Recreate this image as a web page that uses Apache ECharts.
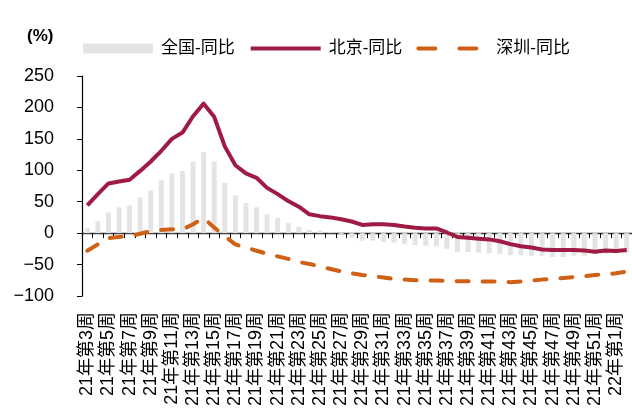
<!DOCTYPE html>
<html>
<head>
<meta charset="utf-8">
<script src="https://cdn.jsdelivr.net/npm/echarts@6/dist/echarts.min.js"></script>
<style>
  html, body { margin: 0; padding: 0; background: #fff; }
  #chart { width: 632px; height: 409px; }
</style>
</head>
<body>
<div id="chart"></div>
<script>
// 周度类目：21年第3周 ~ 22年第2周
const weeks = [
  '21年第3周', '21年第4周', '21年第5周', '21年第6周', '21年第7周', '21年第8周', '21年第9周', '21年第10周',
  '21年第11周', '21年第12周', '21年第13周', '21年第14周', '21年第15周', '21年第16周', '21年第17周', '21年第18周',
  '21年第19周', '21年第20周', '21年第21周', '21年第22周', '21年第23周', '21年第24周', '21年第25周', '21年第26周',
  '21年第27周', '21年第28周', '21年第29周', '21年第30周', '21年第31周', '21年第32周', '21年第33周', '21年第34周',
  '21年第35周', '21年第36周', '21年第37周', '21年第38周', '21年第39周', '21年第40周', '21年第41周', '21年第42周',
  '21年第43周', '21年第44周', '21年第45周', '21年第46周', '21年第47周', '21年第48周', '21年第49周', '21年第50周',
  '21年第51周', '21年第52周', '22年第1周', '22年第2周'
];

// 全国-同比 (%)
const nationalYoy = [
  8, 19, 33, 41, 44, 57, 68, 84, 95, 99, 114, 129, 114, 80, 60, 48,
  41, 30, 24, 16, 10, 5, 4, 1, -2, -7, -12, -12, -14, -15, -17, -19,
  -20, -21, -25, -30, -30, -31, -32, -33, -35, -35, -36, -36, -38, -38, -36, -36,
  -33, -33, -32, -31
];

// 北京-同比 (%)
const beijingYoy = [
  44, 62, 79, 82, 85, 99, 114, 131, 150, 160, 186, 206, 185, 138, 108, 95,
  88, 72, 62, 51, 42, 30, 27, 25, 22, 18.5, 13, 14, 14, 13, 10.5, 8.5,
  7.5, 7.5, 1, -6, -7.5, -9, -10, -13, -17.5, -21, -23, -26, -27, -27, -27, -27.5,
  -29.5, -27.5, -28.5, -27
];

// 深圳-同比 (%)
const shenzhenYoy = [
  -28, -18, -8, -6, -5, -1, 3, 5, 6, 6, 14, 24, 9, -5, -18, -23,
  -28, -33, -37, -41, -46, -49, -53, -57, -61, -64, -66.5, -68.5, -70.5, -73, -74, -75,
  -75.5, -75.5, -76, -76.5, -76.5, -77, -77, -77, -78, -77, -75.5, -74, -73, -71.5, -70, -68.5,
  -66.5, -65.5, -64, -61
];

const yTicks = { min: -100, max: 250, interval: 50 };

const FONT = '"Liberation Sans", "Noto Sans CJK SC", sans-serif';
const RED = '#A01B43';
const ORANGE = '#CF6117';
const GRAY = '#E4E4E4';

const myChart = echarts.init(document.getElementById('chart'));

const option = {
  animation: false,
  backgroundColor: '#fff',
  graphic: [{
    type: 'text',
    left: 27,
    top: 28,
    style: {
      text: '(%)',
      font: 'bold 17px ' + FONT,
      fill: '#000'
    }
  }],
  legend: {
    left: 78,
    top: 35,
    itemWidth: 70,
    itemHeight: 10,
    itemGap: 14,
    textStyle: {
      fontFamily: FONT,
      fontSize: 17,
      color: '#000',
      width: 93,
      padding: [0, 0, 0, 3]
    },
    data: [
      { name: '全国-同比', icon: 'rect' },
      {
        name: '北京-同比',
        itemStyle: { opacity: 0 },
        lineStyle: { color: RED, width: 4 }
      },
      {
        name: '深圳-同比',
        itemStyle: { opacity: 0 },
        lineStyle: { color: ORANGE, width: 4, type: [17, 24], cap: 'round' }
      }
    ]
  },
  grid: {
    left: 82,
    top: 76,
    right: -3,
    bottom: 112,
    containLabel: false
  },
  xAxis: [
    {
      type: 'category',
      data: weeks,
      position: 'bottom',
      boundaryGap: true,
      axisLine: {
        onZero: true,
        lineStyle: { color: '#3a3a3a', width: 1.3 }
      },
      axisTick: {
        show: true,
        interval: 0,
        length: 5,
        lineStyle: { color: '#000', width: 1 }
      },
      axisLabel: { show: false },
      splitLine: { show: false }
    },
    {
      type: 'category',
      data: weeks,
      position: 'bottom',
      boundaryGap: true,
      axisLine: { show: false, onZero: false },
      axisTick: { show: false },
      axisLabel: {
        interval: 1,
        rotate: 90,
        margin: 16,
        fontFamily: FONT,
        fontSize: 18,
        color: '#000'
      },
      splitLine: { show: false }
    }
  ],
  yAxis: {
    type: 'value',
    min: yTicks.min,
    max: yTicks.max,
    interval: yTicks.interval,
    axisLine: {
      show: true,
      lineStyle: { color: '#000', width: 1.2 }
    },
    axisTick: {
      show: true,
      length: 5,
      lineStyle: { color: '#000' }
    },
    axisLabel: {
      margin: 28,
      fontFamily: FONT,
      fontSize: 18,
      color: '#000',
      formatter: (v) => String(v).replace('-', '\u2212')
    },
    splitLine: { show: false }
  },
  series: [
    {
      name: '全国-同比',
      type: 'bar',
      xAxisIndex: 0,
      barWidth: 5,
      itemStyle: { color: GRAY },
      data: nationalYoy
    },
    {
      name: '北京-同比',
      type: 'line',
      xAxisIndex: 0,
      symbol: 'none',
      lineStyle: { color: RED, width: 4, join: 'round' },
      itemStyle: { color: RED },
      data: beijingYoy
    },
    {
      name: '深圳-同比',
      type: 'line',
      xAxisIndex: 0,
      symbol: 'none',
      lineStyle: {
        color: ORANGE,
        width: 4,
        type: [12, 14],
        cap: 'round'
      },
      itemStyle: { color: ORANGE },
      data: shenzhenYoy
    }
  ]
};

myChart.setOption(option);
</script>
</body>
</html>
